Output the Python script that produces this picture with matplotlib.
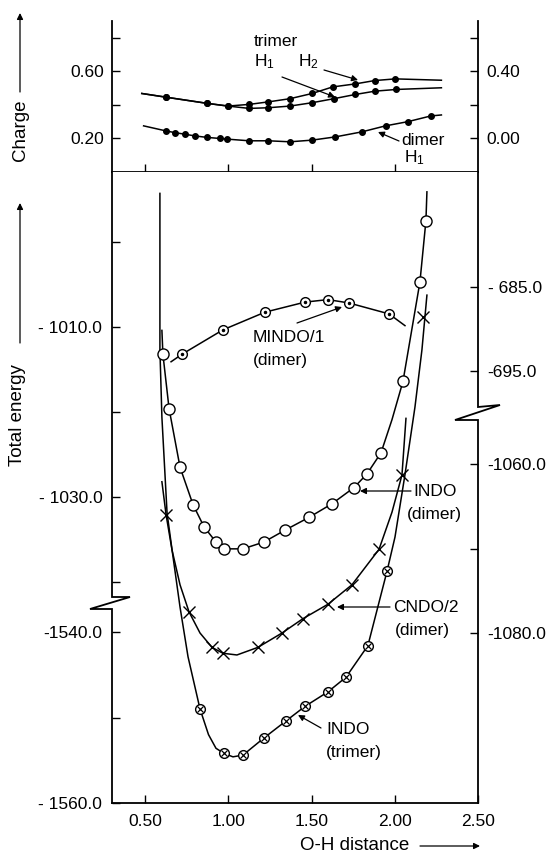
import numpy as np
import matplotlib
matplotlib.use("Agg")
import matplotlib.pyplot as plt
from matplotlib.lines import Line2D

plt.rcParams['font.family'] = ['Liberation Sans', 'DejaVu Sans']
plt.rcParams['mathtext.fontset'] = 'custom'
plt.rcParams['mathtext.rm'] = 'Liberation Sans'
plt.rcParams['mathtext.it'] = 'Liberation Sans'

# ---- charge panel (left scale) ----
tri_h2_x = [0.624, 0.873, 0.997, 1.125, 1.240, 1.370, 1.503, 1.626, 1.762, 1.879, 2.003]
tri_h2_q = [0.446, 0.409, 0.393, 0.403, 0.418, 0.437, 0.468, 0.507, 0.525, 0.545, 0.555]
tri_h2_line_x = [0.479] + tri_h2_x + [2.280]
tri_h2_line_q = [0.468] + tri_h2_q + [0.547]

tri_h1_x = [0.624, 0.873, 0.997, 1.125, 1.240, 1.370, 1.503, 1.634, 1.762, 1.882, 2.010]
tri_h1_q = [0.446, 0.409, 0.393, 0.379, 0.383, 0.393, 0.413, 0.437, 0.462, 0.482, 0.492]
tri_h1_line_x = [0.479] + tri_h1_x + [2.280]
tri_h1_line_q = [0.468] + tri_h1_q + [0.502]

dim_h1_x = [0.624, 0.676, 0.739, 0.799, 0.873, 0.948, 0.991, 1.125, 1.240, 1.370,
            1.503, 1.641, 1.801, 1.944, 2.078, 2.216]
dim_h1_q = [0.245, 0.235, 0.225, 0.215, 0.206, 0.200, 0.196, 0.186, 0.186, 0.180,
            0.190, 0.209, 0.239, 0.275, 0.300, 0.334]
dim_h1_line_x = [0.490] + dim_h1_x + [2.280]
dim_h1_line_q = [0.275] + dim_h1_q + [0.340]

# ---- INDO dimer (left, upper scale) ----
indo_d_x = [0.606, 0.643, 0.709, 0.787, 0.853, 0.925, 0.973, 1.087, 1.213, 1.340,
            1.484, 1.622, 1.754, 1.832, 1.917, 2.049, 2.151, 2.187]
indo_d_e = [-1013.2, -1019.6, -1026.5, -1030.9, -1033.5, -1035.3, -1036.1, -1036.1,
            -1035.3, -1033.9, -1032.4, -1030.8, -1028.9, -1027.3, -1024.8, -1016.4,
            -1004.7, -997.5]
indo_d_line_x = [0.600] + indo_d_x[:15] + [1.983] + indo_d_x[15:] + [2.193]
indo_d_line_e = [-1010.4] + indo_d_e[:15] + [-1020.9] + indo_d_e[15:] + [-994.1]

# ---- MINDO/1 dimer (right, upper scale) ----
mindo_x = [0.721, 0.967, 1.219, 1.460, 1.598, 1.724, 1.965]
mindo_e = [-693.0, -690.1, -688.0, -686.8, -686.5, -686.9, -688.2]
mindo_line_x = [0.655] + mindo_x + [2.061]
mindo_line_e = [-693.9] + mindo_e + [-689.6]

# ---- CNDO/2 dimer (right, lower scale) ----
cndo_x = [0.625, 0.763, 0.901, 0.967, 1.177, 1.322, 1.448, 1.598, 1.742, 1.905, 2.043, 2.169]
cndo_e = [-1066.0, -1077.5, -1081.7, -1082.4, -1081.7, -1080.0, -1078.3, -1076.6,
          -1074.3, -1070.1, -1061.3, -1042.6]
cndo_line_x = [0.600, 0.625, 0.661, 0.709, 0.763, 0.829, 0.901, 0.967, 1.051, 1.177,
               1.322, 1.448, 1.598, 1.742, 1.905, 1.983, 2.043, 2.067]
cndo_line_e = [-1062.1, -1066.0, -1070.2, -1074.3, -1077.5, -1080.0, -1081.7, -1082.4,
               -1082.6, -1081.7, -1080.0, -1078.3, -1076.6, -1074.3, -1070.1, -1065.7,
               -1061.3, -1054.6]

# ---- INDO trimer (left, lower scale) ----
indo_t_x = [0.829, 0.973, 1.087, 1.213, 1.346, 1.460, 1.598, 1.706, 1.838, 1.953]
indo_t_e = [-1549.0, -1554.2, -1554.4, -1552.4, -1550.4, -1548.7, -1547.0, -1545.3,
            -1541.6, -1532.9]
indo_t_line_x = [0.588, 0.588, 0.588, 0.600, 0.631, 0.661, 0.709, 0.757, 0.829, 0.880,
                 0.925, 0.973, 1.027, 1.087, 1.213, 1.346, 1.460, 1.598, 1.706, 1.838,
                 1.953, 2.001, 2.061, 2.121, 2.163, 2.193]
indo_t_line_e = [-1488.7, -1496.5, -1507.0, -1514.9, -1526.1, -1530.4, -1537.1, -1542.9,
                 -1549.0, -1552.0, -1553.6, -1554.2, -1554.6, -1554.4, -1552.4, -1550.4,
                 -1548.7, -1547.0, -1545.3, -1541.6, -1532.9, -1528.9, -1521.6, -1513.7,
                 -1507.0, -1500.6]

# ---- ticks ----
x_ticks = [0.5, 1.0, 1.5, 2.0, 2.5]
x_labels = ['0.50', '1.00', '1.50', '2.00', '2.50']
q_ticks = [0.2, 0.4, 0.6, 0.8]
q_labels = ['0.20', '', '0.60', '']
q2_ticks = [0.0, 0.2, 0.4, 0.6]
q2_labels = ['0.00', '', '0.40', '']
ul_ticks = [-1000, -1010, -1020, -1030, -1040]
ul_labels = ['', '- 1010.0', '', '- 1030.0', '']
ll_ticks = [-1540, -1550, -1560]
ll_labels = ['-1540.0', '', '- 1560.0']
ur_ticks = [-685, -695]
ur_labels = ['- 685.0', '-695.0']
lr_ticks = [-1060, -1070, -1080]
lr_labels = ['-1060.0', '', '-1080.0']

W, H = 552, 860
FS = 12.5
fig = plt.figure(figsize=(W / 100, H / 100), dpi=100)


def box(l, t, r, b):
    return [l / W, 1 - b / H, (r - l) / W, (b - t) / H]


def P(px, py):
    return (px / W, 1 - py / H)


L, R, TOP, BOT = 112, 478, 172, 803

# charge panel
ax_c = fig.add_axes(box(L, 21, R, TOP))
ax_c.set_xlim(0.30, 2.50)
ax_c.set_ylim(0.0, 0.9)
ax_c.spines['top'].set_visible(False)
for s in ax_c.spines.values():
    s.set_linewidth(1.3)
ax_c.set_xticks(x_ticks[:-1])
ax_c.set_xticklabels([])
ax_c.set_yticks(q_ticks)
ax_c.set_yticklabels(q_labels)
ax_c.tick_params(direction='in', length=6, width=1, labelsize=FS, pad=6)
ax_c2 = ax_c.twinx()
ax_c2.set_ylim(-0.2, 0.7)
for s in ax_c2.spines.values():
    s.set_visible(False)
ax_c2.set_yticks(q2_ticks)
ax_c2.set_yticklabels(q2_labels)
ax_c2.tick_params(direction='in', length=6, width=1, labelsize=FS, pad=6)

for lx, lq, mx, mq in [(tri_h2_line_x, tri_h2_line_q, tri_h2_x, tri_h2_q),
                       (tri_h1_line_x, tri_h1_line_q, tri_h1_x, tri_h1_q),
                       (dim_h1_line_x, dim_h1_line_q, dim_h1_x, dim_h1_q)]:
    ax_c.plot(lx, lq, color='k', lw=1.1)
    ax_c.plot(mx, mq, 'o', color='k', ms=4)

# main panel: four overlaid axes, one per energy scale
rect = box(L, TOP, R, BOT)
ax_ll = fig.add_axes(rect)
ax_ul = fig.add_axes(rect)
ax_ur = fig.add_axes(rect)
ax_lr = fig.add_axes(rect)

hgt = BOT - TOP
ax_ll.set_ylim(-1560, -1560 + hgt / 8.55)
ax_ul.set_ylim(-1030 - 306 / 8.5, -1030 - 306 / 8.5 + hgt / 8.5)
ax_ur.set_ylim(-695 - 432 / 8.4, -695 - 432 / 8.4 + hgt / 8.4)
ax_lr.set_ylim(-1080 - 170 / 8.45, -1080 - 170 / 8.45 + hgt / 8.45)

for a in (ax_ll, ax_ul, ax_ur, ax_lr):
    a.set_xlim(0.30, 2.50)
    for s in a.spines.values():
        s.set_visible(False)
    if a is not ax_ll:
        a.patch.set_visible(False)
        a.xaxis.set_visible(False)

ax_ll.spines['bottom'].set_visible(True)
ax_ll.spines['bottom'].set_linewidth(1.3)
ax_ll.set_xticks(x_ticks)
ax_ll.set_xticklabels(x_labels)
ax_ll.tick_params(axis='x', direction='in', length=6, width=1, labelsize=FS, pad=8)

for a, ticks, labels, side in [(ax_ll, ll_ticks, ll_labels, 'left'),
                               (ax_ul, ul_ticks, ul_labels, 'left'),
                               (ax_ur, ur_ticks, ur_labels, 'right'),
                               (ax_lr, lr_ticks, lr_labels, 'right')]:
    a.yaxis.set_ticks_position(side)
    a.yaxis.set_label_position(side)
    a.set_yticks(ticks)
    a.set_yticklabels(labels)
    a.tick_params(axis='y', direction='in', length=6, width=1, labelsize=FS, pad=7)

# broken spines (axes fraction)
def fr(px, py):
    return ((px - L) / (R - L), (BOT - py) / hgt)


left_spine = [fr(L, TOP), fr(L, 597), fr(130, 597), fr(90, 609), fr(L, 609), fr(L, BOT)]
right_spine = [fr(R, TOP), fr(R, 407), fr(500, 405), fr(455, 420), fr(R, 420), fr(R, BOT)]
for pts in (left_spine, right_spine):
    xs, ys = zip(*pts)
    ax_ll.add_line(Line2D(xs, ys, transform=ax_ll.transAxes, color='k', lw=1.3,
                          clip_on=False, solid_joinstyle='miter'))

# curves
ax_ll.plot(indo_t_line_x, indo_t_line_e, color='k', lw=1.1)
ax_ll.plot(indo_t_x, indo_t_e, 'o', ms=7, mfc='white', mec='k', mew=1.0)
ax_ll.plot(indo_t_x, indo_t_e, 'x', ms=4.5, color='k', mew=0.9)

ax_lr.plot(cndo_line_x, cndo_line_e, color='k', lw=1.1)
ax_lr.plot(cndo_x, cndo_e, 'x', ms=8, color='k', mew=1.0)

ax_ul.plot(indo_d_line_x, indo_d_line_e, color='k', lw=1.1)
ax_ul.plot(indo_d_x, indo_d_e, 'o', ms=8, mfc='white', mec='k', mew=1.0)

ax_ur.plot(mindo_line_x, mindo_line_e, color='k', lw=1.1)
ax_ur.plot(mindo_x, mindo_e, 'o', ms=7, mfc='white', mec='k', mew=1.0)
ax_ur.plot(mindo_x, mindo_e, 'o', ms=1.5, color='k')

# annotations
def arrow(p_from, p_to, head=True):
    ax_ll.annotate('', xy=P(*p_to), xytext=P(*p_from), xycoords='figure fraction',
                   textcoords='figure fraction',
                   arrowprops=dict(arrowstyle='-|>' if head else '-', color='k',
                                   lw=0.9, mutation_scale=9, shrinkA=0, shrinkB=0))


def label(px, py, s, **kw):
    fig.text(*P(px, py), s, fontsize=FS, va='center', **kw)


label(254, 42, 'trimer')
label(254, 62, 'H$_1$')
label(298, 62, 'H$_2$')
arrow((324, 70), (358, 80))
arrow((282, 77), (335, 97))
label(401, 140, 'dimer')
label(404, 158, 'H$_1$')
arrow((399, 141), (378, 132))

label(253, 337, 'MINDO/1')
label(253, 360, '(dimer)')
arrow((297, 323), (342, 307))

label(413, 492, 'INDO')
label(407, 515, '(dimer)')
arrow((411, 491), (360, 491))

label(393, 608, 'CNDO/2')
label(395, 631, '(dimer)')
arrow((390, 607), (337, 607))

label(326, 730, 'INDO')
label(326, 752, '(trimer)')
arrow((321, 728), (298, 715))

# axis titles
fig.text(*P(21, 130), 'Charge', fontsize=13.5, rotation=90, ha='center', va='center')
arrow((20, 92), (20, 13))
fig.text(*P(18, 415), 'Total energy', fontsize=13.5, rotation=90, ha='center', va='center')
arrow((20, 343), (20, 203))
fig.text(*P(355, 846), 'O-H distance', fontsize=13.5, ha='center', va='center')
arrow((420, 846), (480, 846))

fig.savefig('out.png', dpi=100)
